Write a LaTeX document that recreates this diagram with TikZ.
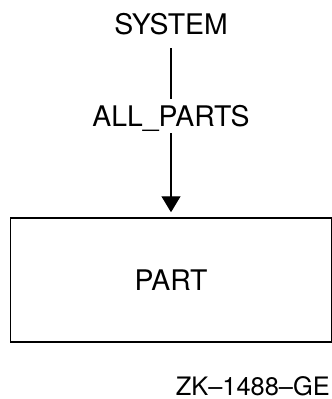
\documentclass[tikz,border=0pt]{standalone}
\usepackage{fontspec}
\setmainfont{TeX Gyre Heros}
\usetikzlibrary{arrows.meta}
\tikzset{
  lbl/.style={inner sep=0pt, font=\fontsize{28.5}{32}\selectfont},
  tagtext/.style={inner sep=0pt, font=\fontsize{25.5}{30}\selectfont},
  boxnode/.style={draw, line width=1.5bp, inner sep=0pt, minimum width=321bp, minimum height=124bp, font=\fontsize{28.5}{32}\selectfont},
  link/.style={line width=1.3bp},
}
\begin{document}
\begin{tikzpicture}[x=1bp, y=-1bp]
\useasboundingbox (0,0) rectangle (332,399);
\node[lbl, anchor=base] (system) at (171,34) {SYSTEM};
\node[lbl, anchor=base] (allparts) at (171,126) {ALL\_PARTS};
\node[boxnode] (part) at (171,280) {PART};
\node[tagtext, anchor=base east] (tag) at (330,395) {ZK–1488–GE};
\draw[link, shorten <=14bp, shorten >=6bp] (system.base) -- (allparts.north);
\draw[link, shorten <=7bp, shorten >=5bp, -{Triangle[width=19bp, length=16bp]}] (allparts.base) -- (part.north);
\end{tikzpicture}
\end{document}
